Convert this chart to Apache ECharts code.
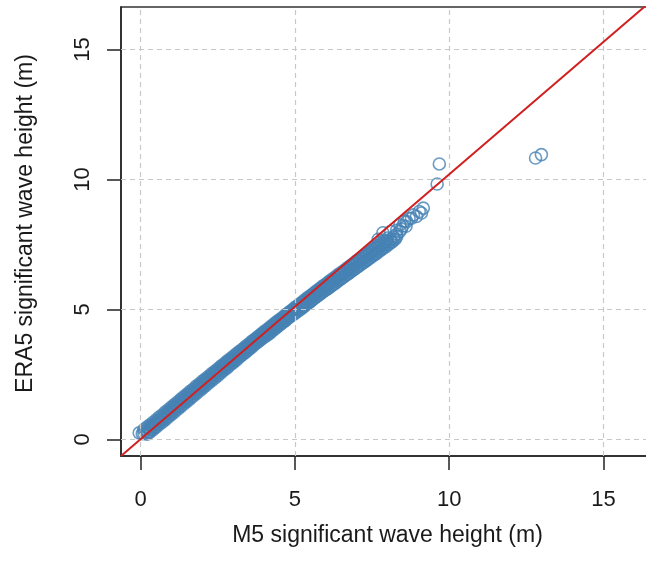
<!DOCTYPE html>
<html><head><meta charset="utf-8">
<script src="https://cdn.jsdelivr.net/npm/echarts@6/dist/echarts.min.js"></script>
<style>html,body{margin:0;padding:0;background:#fff;overflow:hidden;width:646px;height:574px}#c{width:654px;height:574px}</style>
</head><body><div id="c"></div>
<script>
const xTicks = [0, 5, 10, 15];
const yTicks = [0, 5, 10, 15];
const xRange = [-0.64, 16.64];
const yRange = [-0.64, 16.64];
const xTitle = 'M5 significant wave height (m)';
const yTitle = 'ERA5 significant wave height (m)';

const bandMid = [[0.05,0.22],[0.1,0.24],[0.2,0.3],[0.3,0.41],[0.4,0.5],[0.5,0.6],[0.6,0.72],[0.7,0.8],[0.8,0.91],[0.9,1.0],
[1.0,1.1],[1.1,1.22],[1.2,1.3],[1.3,1.41],[1.4,1.52],[1.5,1.6],[1.6,1.71],[1.7,1.8],[1.8,1.92],[1.9,2.0],
[2.0,2.1],[2.1,2.21],[2.2,2.3],[2.3,2.4],[2.4,2.5],[2.5,2.6],[2.6,2.69],[2.7,2.79],[2.8,2.9],[2.9,2.98],
[3.0,3.08],[3.1,3.18],[3.2,3.28],[3.3,3.37],[3.4,3.47],[3.5,3.56],[3.6,3.66],[3.7,3.75],[3.8,3.85],[3.9,3.94],
[4.0,4.04],[4.1,4.13],[4.2,4.23],[4.3,4.32],[4.4,4.42],[4.5,4.51],[4.6,4.6],[4.7,4.7],[4.8,4.79],[4.9,4.89],
[5.0,4.98],[5.1,5.07],[5.2,5.16],[5.3,5.25],[5.4,5.34],[5.5,5.44],[5.6,5.52],[5.7,5.62],[5.8,5.7],[5.9,5.8],
[6.0,5.89],[6.1,5.97],[6.2,6.06],[6.3,6.15],[6.4,6.24],[6.5,6.33],[6.6,6.41],[6.7,6.5],[6.8,6.58],[6.9,6.67],
[7.0,6.76],[7.1,6.85],[7.2,6.92],[7.3,7.01],[7.4,7.1],[7.5,7.18],[7.6,7.27],[7.7,7.35],[7.8,7.45],[7.9,7.52],
[8.0,7.62],[8.1,7.7],[8.2,7.8],[8.3,7.9],[8.4,8.0]];

const bandUpper = [[0.1,0.38],[0.2,0.47],[0.3,0.56],[0.4,0.66],[0.5,0.75],[0.6,0.86],[0.7,0.95],[0.8,1.06],[0.9,1.15],[1.0,1.25],
[1.1,1.35],[1.2,1.45],[1.3,1.55],[1.4,1.65],[1.5,1.74],[1.6,1.85],[1.7,1.94],[1.8,2.05],[1.9,2.14],[2.0,2.24],
[2.1,2.33],[2.2,2.43],[2.3,2.53],[2.4,2.62],[2.5,2.72],[2.6,2.82],[2.7,2.91],[2.8,3.01],[2.9,3.1],[3.0,3.2],
[3.1,3.29],[3.2,3.39],[3.3,3.48],[3.4,3.58],[3.5,3.67],[3.6,3.77],[3.7,3.86],[3.8,3.96],[3.9,4.05],[4.0,4.15],
[4.1,4.24],[4.2,4.33],[4.3,4.43],[4.4,4.52],[4.5,4.61],[4.6,4.7],[4.7,4.8],[4.8,4.89],[4.9,4.98],[5.0,5.08],
[5.1,5.16],[5.2,5.26],[5.3,5.35],[5.4,5.45],[5.5,5.53],[5.6,5.62],[5.7,5.72],[5.8,5.8],[5.9,5.9],[6.0,5.98],
[6.1,6.07],[6.2,6.16],[6.3,6.25],[6.4,6.34],[6.5,6.42],[6.6,6.51],[6.7,6.6],[6.8,6.69],[6.9,6.78],[7.0,6.87],
[7.1,6.95],[7.2,7.04],[7.3,7.13],[7.4,7.22],[7.5,7.3],[7.6,7.39],[7.7,7.48],[7.8,7.6],[7.9,7.66],[8.0,7.75]];

const bandMidUpper = [[0.15,0.34],[0.25,0.43],[0.35,0.53],[0.45,0.62],[0.55,0.73],[0.65,0.83],[0.75,0.92],[0.85,1.03],[0.95,1.12],
[1.05,1.23],[1.15,1.33],[1.25,1.43],[1.35,1.54],[1.45,1.63],[1.55,1.73],[1.65,1.83],[1.75,1.93],[1.85,2.03],[1.95,2.12],
[2.05,2.23],[2.15,2.33],[2.25,2.42],[2.35,2.52],[2.45,2.62],[2.55,2.72],[2.65,2.81],[2.75,2.92],[2.85,3.01],[2.95,3.1],
[3.05,3.2],[3.15,3.3],[3.25,3.39],[3.35,3.49],[3.45,3.58],[3.55,3.68],[3.65,3.78],[3.75,3.87],[3.85,3.97],[3.95,4.06],
[4.05,4.16],[4.15,4.25],[4.25,4.34],[4.35,4.44],[4.45,4.53],[4.55,4.62],[4.65,4.72],[4.75,4.81],[4.85,4.91],[4.95,5.0],
[5.05,5.09],[5.15,5.18],[5.25,5.27],[5.35,5.37],[5.45,5.46],[5.55,5.55],[5.65,5.64],[5.75,5.73],[5.85,5.82],[5.95,5.91],
[6.05,6.0],[6.15,6.09],[6.25,6.17],[6.35,6.26],[6.45,6.35],[6.55,6.44],[6.65,6.53],[6.75,6.61],[6.85,6.7],[6.95,6.78],
[7.05,6.88],[7.15,6.96],[7.25,7.04],[7.35,7.13],[7.45,7.21],[7.55,7.3],[7.65,7.38],[7.75,7.47],[7.85,7.56],[7.95,7.64]];

const bandMidLower = [[0.25,0.28],[0.35,0.38],[0.45,0.47],[0.55,0.58],[0.65,0.68],[0.75,0.77],[0.85,0.87],[0.95,0.97],
[1.05,1.08],[1.15,1.18],[1.25,1.27],[1.35,1.38],[1.45,1.48],[1.55,1.57],[1.65,1.67],[1.75,1.78],[1.85,1.88],[1.95,1.97],
[2.05,2.07],[2.15,2.17],[2.25,2.27],[2.35,2.37],[2.45,2.47],[2.55,2.56],[2.65,2.66],[2.75,2.77],[2.85,2.86],[2.95,2.95],
[3.05,3.05],[3.15,3.15],[3.25,3.24],[3.35,3.34],[3.45,3.43],[3.55,3.53],[3.65,3.62],[3.75,3.72],[3.85,3.81],[3.95,3.9],
[4.05,4.0],[4.15,4.09],[4.25,4.18],[4.35,4.28],[4.45,4.37],[4.55,4.46],[4.65,4.55],[4.75,4.65],[4.85,4.74],[4.95,4.83],
[5.05,4.92],[5.15,5.01],[5.25,5.09],[5.35,5.18],[5.45,5.27],[5.55,5.36],[5.65,5.45],[5.75,5.54],[5.85,5.63],[5.95,5.72],
[6.05,5.8],[6.15,5.89],[6.25,5.97],[6.35,6.06],[6.45,6.15],[6.55,6.23],[6.65,6.32],[6.75,6.4],[6.85,6.49],[6.95,6.57],
[7.05,6.66],[7.15,6.74],[7.25,6.82],[7.35,6.91],[7.45,6.99],[7.55,7.08],[7.65,7.16],[7.75,7.25],[7.85,7.34],[7.95,7.42],
[8.05,7.51],[8.15,7.6],[8.25,7.7]];

const bandLower = [[0.2,0.2],[0.3,0.28],[0.4,0.37],[0.5,0.47],[0.6,0.57],[0.7,0.66],[0.8,0.76],[0.9,0.86],[1.0,0.96],
[1.1,1.06],[1.2,1.16],[1.3,1.26],[1.4,1.36],[1.5,1.46],[1.6,1.56],[1.7,1.66],[1.8,1.76],[1.9,1.86],[2.0,1.96],
[2.1,2.06],[2.2,2.16],[2.3,2.26],[2.4,2.35],[2.5,2.45],[2.6,2.56],[2.7,2.66],[2.8,2.75],[2.9,2.86],[3.0,2.95],
[3.1,3.05],[3.2,3.16],[3.3,3.26],[3.4,3.35],[3.5,3.45],[3.6,3.55],[3.7,3.66],[3.8,3.75],[3.9,3.85],[4.0,3.93],
[4.1,4.01],[4.2,4.1],[4.3,4.2],[4.4,4.3],[4.5,4.39],[4.6,4.49],[4.7,4.58],[4.8,4.68],[4.9,4.77],[5.0,4.85],
[5.1,4.93],[5.2,5.02],[5.3,5.12],[5.4,5.21],[5.5,5.3],[5.6,5.4],[5.7,5.49],[5.8,5.58],[5.9,5.67],[6.0,5.75],
[6.1,5.83],[6.2,5.92],[6.3,6.0],[6.4,6.1],[6.5,6.18],[6.6,6.27],[6.7,6.36],[6.8,6.44],[6.9,6.53],[7.0,6.62],
[7.1,6.7],[7.2,6.8],[7.3,6.88],[7.4,6.97],[7.5,7.06],[7.6,7.14],[7.7,7.24],[7.8,7.32],[7.9,7.42],[8.0,7.5],
[8.1,7.6],[8.2,7.7],[8.3,7.8]];

const sparsePoints = [[7.7,7.7],[7.85,7.95],[8.1,8.0],[8.3,8.05],[8.4,8.26],[8.45,8.1],[8.5,8.22],[8.55,8.4],[8.6,8.2],
[8.62,8.38],[8.7,8.5],[8.78,8.51],[8.84,8.64],[8.94,8.58],[9.03,8.77],[9.1,8.71],[9.16,8.9]];

const outliers = [[-0.05,0.25],[9.61,9.83],[9.68,10.6],[12.8,10.83],[12.99,10.96]];

const refLineX = [-0.64, 16.34];
const refLineY = [-0.64, 16.66];

const FONT = 'Liberation Sans, Arial, sans-serif';
const pointColor = '#4682B4';
const allPoints = [].concat(bandLower, bandMidLower, bandMid, bandMidUpper, bandUpper, sparsePoints, outliers);

const chart = echarts.init(document.getElementById('c'), null, {renderer: 'canvas'});
const gridLineStyle = {color: '#c8c8c8', type: [5, 4], width: 1.2};
const markData = xTicks.map(v => ({xAxis: v})).concat(yTicks.map(v => ({yAxis: v})));

chart.setOption({
  animation: false,
  backgroundColor: '#ffffff',
  grid: {left: 121, top: 7, right: 0, bottom: 118, show: true, borderColor: '#333', borderWidth: 1.5, containLabel: false},
  xAxis: {
    type: 'value', min: xRange[0], max: xRange[1],
    name: xTitle, nameLocation: 'middle', nameGap: 68,
    nameTextStyle: {fontFamily: FONT, fontSize: 23, color: '#1a1a1a'},
    axisLine: {show: true, onZero: false, lineStyle: {color: '#222', width: 1.5}},
    axisTick: {show: true, inside: false, length: 14, customValues: xTicks, lineStyle: {color: '#222', width: 1.5}},
    axisLabel: {show: true, customValues: xTicks, margin: 33, fontFamily: FONT, fontSize: 22, color: '#1a1a1a'},
    splitLine: {show: false}
  },
  yAxis: {
    type: 'value', min: yRange[0], max: yRange[1],
    name: yTitle, nameLocation: 'middle', nameGap: 84, nameRotate: 90,
    nameTextStyle: {fontFamily: FONT, fontSize: 23, color: '#1a1a1a', padding: [0, 0, 0, 16]},
    axisLine: {show: true, onZero: false, lineStyle: {color: '#222', width: 1.5}},
    axisTick: {show: true, inside: false, length: 14, customValues: yTicks, lineStyle: {color: '#222', width: 1.5}},
    axisLabel: {show: true, customValues: yTicks, rotate: 90, margin: 27, fontFamily: FONT, fontSize: 22, color: '#1a1a1a'},
    splitLine: {show: false}
  },
  series: [
    {
      type: 'line', data: [], silent: true, z: 1,
      markLine: {silent: true, symbol: 'none', label: {show: false}, lineStyle: gridLineStyle, data: markData, animation: false}
    },
    {
      type: 'scatter', data: allPoints, symbol: 'circle', symbolSize: 12, z: 3,
      progressive: 0, large: false,
      itemStyle: {color: 'rgba(0,0,0,0)', borderColor: pointColor, borderWidth: 1.6},
      silent: true
    },
    {
      type: 'line', data: refLineX.map((x, i) => [x, refLineY[i]]), symbol: 'none', z: 6, zlevel: 1,
      lineStyle: {color: '#d02020', width: 2}, silent: true, clip: true
    }
  ]
});
</script></body></html>
